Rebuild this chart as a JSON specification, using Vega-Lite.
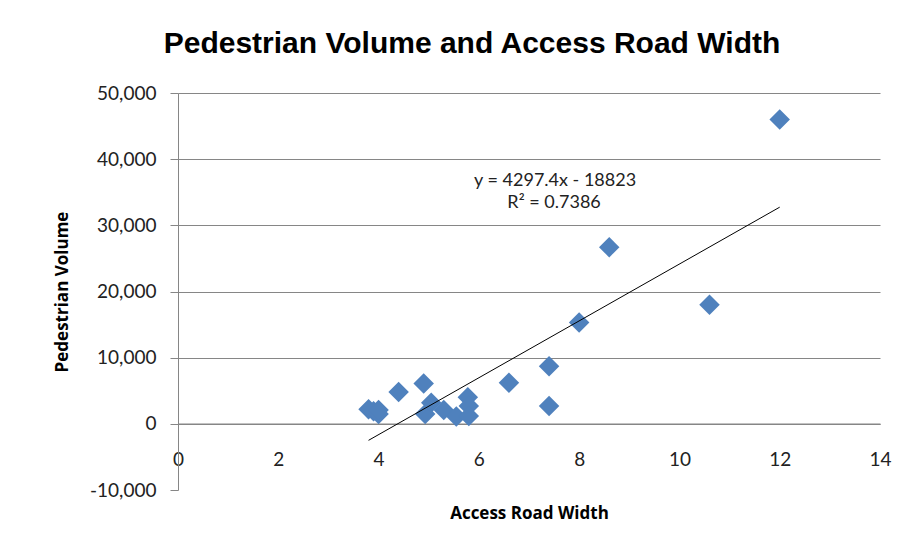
{
  "$schema": "https://vega.github.io/schema/vega-lite/v6.json",
  "width": 702,
  "height": 397,
  "autosize": {"type": "none"},
  "padding": {"left": 178, "top": 93, "right": 21, "bottom": 63},
  "background": "white",
  "title": {
    "text": "Pedestrian Volume and Access Road Width",
    "font": "Liberation Sans",
    "fontSize": 30,
    "fontWeight": "bold",
    "color": "#000000",
    "anchor": "middle",
    "offset": 25,
    "dx": -57
  },
  "config": {
    "view": {"stroke": null},
    "axis": {
      "labelFont": "Lato",
      "labelFontSize": 19,
      "labelColor": "#222222",
      "titleFont": "Open Sans",
      "titleFontSize": 17,
      "titleFontWeight": "bold",
      "titleColor": "#000000"
    }
  },
  "datasets": {
    "points": [
      {"width": 3.8, "volume": 2200},
      {"width": 3.9, "volume": 1900},
      {"width": 4.0, "volume": 1500},
      {"width": 4.0, "volume": 2100},
      {"width": 4.4, "volume": 4800},
      {"width": 4.9, "volume": 6100},
      {"width": 4.93, "volume": 1500},
      {"width": 5.05, "volume": 3200},
      {"width": 5.3, "volume": 2100},
      {"width": 5.55, "volume": 1100},
      {"width": 5.78, "volume": 4000},
      {"width": 5.8, "volume": 2700},
      {"width": 5.8, "volume": 1200},
      {"width": 6.6, "volume": 6200},
      {"width": 7.4, "volume": 8700},
      {"width": 7.4, "volume": 2700},
      {"width": 8.0, "volume": 15300},
      {"width": 8.6, "volume": 26700},
      {"width": 10.6, "volume": 18000},
      {"width": 12.0, "volume": 46000}
    ],
    "trend": [
      {"width": 3.8, "volume": -2493},
      {"width": 12.0, "volume": 32746}
    ],
    "notes": [
      {"width": 7.52, "volume": 36700, "label": "y = 4297.4x - 18823"},
      {"width": 7.5, "volume": 33400, "label": "R² = 0.7386"}
    ]
  },
  "layer": [
    {
      "data": {"name": "points"},
      "mark": {"type": "point", "shape": "diamond", "filled": true, "size": 420, "color": "#4F81BD", "opacity": 1},
      "encoding": {
        "x": {
          "field": "width",
          "type": "quantitative",
          "scale": {"domain": [0, 14], "nice": false, "zero": false},
          "axis": {
            "title": "Access Road Width",
            "values": [0, 2, 4, 6, 8, 10, 12, 14],
            "offset": -66.17,
            "grid": false,
            "ticks": false,
            "domainColor": "#868686",
            "domainWidth": 1.5,
            "labelPadding": 27,
            "titlePadding": 36,
            "labelFlush": false
          }
        },
        "y": {
          "field": "volume",
          "type": "quantitative",
          "scale": {"domain": [-10000, 50000], "nice": false, "zero": false},
          "axis": {
            "title": "Pedestrian Volume",
            "values": [-10000, 0, 10000, 20000, 30000, 40000, 50000],
            "format": ",.0f",
            "labelExpr": "replace(datum.label, '\u2212', '-')",
            "grid": true,
            "gridColor": "#868686",
            "gridWidth": 1,
            "gridOpacity": {"condition": {"test": "datum.value === -10000", "value": 0}, "value": 1},
            "domainColor": "#868686",
            "tickColor": "#868686",
            "tickSize": 8,
            "labelPadding": 14,
            "titlePadding": 18,
            "labelFlush": false
          }
        }
      }
    },
    {
      "data": {"name": "trend"},
      "mark": {"type": "line", "color": "#000000", "strokeWidth": 1},
      "encoding": {
        "x": {"field": "width", "type": "quantitative"},
        "y": {"field": "volume", "type": "quantitative"}
      }
    },
    {
      "data": {"name": "notes"},
      "mark": {"type": "text", "font": "Lato", "fontSize": 18, "color": "#222222", "align": "center", "baseline": "middle"},
      "encoding": {
        "x": {"field": "width", "type": "quantitative"},
        "y": {"field": "volume", "type": "quantitative"},
        "text": {"field": "label"}
      }
    }
  ]
}
